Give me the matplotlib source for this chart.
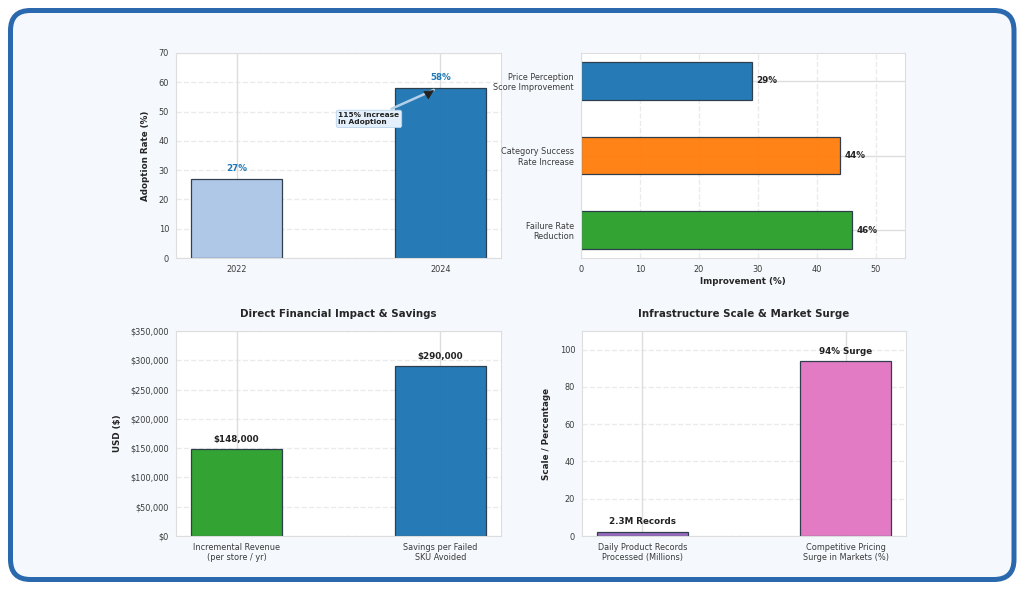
import matplotlib
matplotlib.use("Agg")
import matplotlib.pyplot as plt
import seaborn as sns
from matplotlib.patches import FancyBboxPatch
from matplotlib.transforms import IdentityTransform
from matplotlib.ticker import FuncFormatter

# ---- data ----
years = ["2022", "2024"]
adoption = [27, 58]
adoption_colors = ["#aec7e8", "#1f77b4"]

improve_cats = ["Price Perception\nScore Improvement", "Category Success\nRate Increase", "Failure Rate\nReduction"]
improve_vals = [29, 44, 46]
improve_colors = ["#1f77b4", "#ff7f0e", "#2ca02c"]

fin_cats = ["Incremental Revenue\n(per store / yr)", "Savings per Failed\nSKU Avoided"]
fin_vals = [148000, 290000]
fin_colors = ["#2ca02c", "#1f77b4"]
fin_labels = ["$148,000", "$290,000"]

infra_cats = ["Daily Product Records\nProcessed (Millions)", "Competitive Pricing\nSurge in Markets (%)"]
infra_vals = [2.3, 94]
infra_colors = ["#9467bd", "#e377c2"]
infra_labels = ["2.3M Records", "94% Surge"]

sns.set_theme(style="whitegrid")
plt.rcParams['font.family'] = ['DejaVu Sans']
plt.rcParams['axes.edgecolor'] = '#dddddd'
plt.rcParams['grid.color'] = '#dddddd'
plt.rcParams['xtick.color'] = '#3a3a3a'
plt.rcParams['ytick.color'] = '#3a3a3a'

fig = plt.figure(figsize=(10.26, 5.89), dpi=100, facecolor="white")

# frame
frame = FancyBboxPatch((10.5, 9.5), 1003.5, 569, boxstyle="round,pad=0,rounding_size=20",
                       transform=IdentityTransform(), facecolor="#f5f8fc",
                       edgecolor="#2a69ad", linewidth=3.6, zorder=-10)
fig.patches.append(frame)

W, H = 1026, 589
def rect(l, t, r, b):
    return [l / W, 1 - b / H, (r - l) / W, (b - t) / H]

ax1 = fig.add_axes(rect(176, 53, 501, 258))
ax2 = fig.add_axes(rect(581, 53, 905, 258))
ax3 = fig.add_axes(rect(176, 331, 501, 536))
ax4 = fig.add_axes(rect(582, 331, 906, 536))

tick_fs = 5.9
lab_fs = 6.3
val_fs = 6.3
title_fs = 7.4
for ax in (ax1, ax2, ax3, ax4):
    ax.set_facecolor("white")
    ax.tick_params(labelsize=tick_fs, length=0, pad=5)
    for s in ax.spines.values():
        s.set_color("#dddddd")
        s.set_linewidth(0.8)
    ax.set_axisbelow(True)

# ---- ax1 ----
x1 = range(len(years))
ax1.bar(x1, adoption, width=0.45, color=adoption_colors, edgecolor="#2b3a4a", linewidth=0.9, alpha=0.97)
ax1.set_xticks(list(x1))
ax1.set_xticklabels(years)
ax1.set_ylim(0, 70)
ax1.set_ylabel("Adoption Rate (%)", fontsize=lab_fs, fontweight="bold", labelpad=6)
ax1.grid(axis="y", linestyle="--", alpha=0.6)
for i, v in enumerate(adoption):
    ax1.text(i, v + 2, f"{v}%", ha="center", va="bottom", fontsize=val_fs, fontweight="bold", color="#1f77b4")
ax1.annotate("115% Increase\nin Adoption", xy=(0.98, 57.8), xytext=(0.5, 47.5),
             ha="left", va="center", fontsize=5.3, fontweight="bold", color="#222222",
             bbox=dict(boxstyle="round,pad=0.3", facecolor="#e3effa", edgecolor="#b9d4ee", linewidth=0.6),
             arrowprops=dict(arrowstyle="-", color="#b4cfe8", lw=1.8))
ax1.annotate("", xy=(0.98, 57.8), xytext=(0.93, 55.6),
             arrowprops=dict(arrowstyle="-|>,head_length=0.5,head_width=0.25", color="#222222", lw=0.6))

# ---- ax2 ----
y2 = range(len(improve_cats))
ax2.barh(list(y2), improve_vals, height=0.5, color=improve_colors, edgecolor="#2b3a4a", linewidth=0.9, alpha=0.97)
ax2.set_yticks(list(y2))
ax2.set_yticklabels(improve_cats, fontsize=tick_fs)
ax2.invert_yaxis()
ax2.set_xlim(0, 55)
ax2.set_xlabel("Improvement (%)", fontsize=lab_fs, fontweight="bold", labelpad=2)
ax2.grid(axis="x", linestyle="--", alpha=0.6)
for i, v in enumerate(improve_vals):
    ax2.text(v + 0.8, i, f"{v}%", ha="left", va="center", fontsize=val_fs, fontweight="bold", color="#222222")

# ---- ax3 ----
x3 = range(len(fin_cats))
ax3.bar(list(x3), fin_vals, width=0.45, color=fin_colors, edgecolor="#2b3a4a", linewidth=0.9, alpha=0.97)
ax3.set_xticks(list(x3))
ax3.set_xticklabels(fin_cats, fontsize=tick_fs)
ax3.set_ylim(0, 350000)
ax3.yaxis.set_major_formatter(FuncFormatter(lambda v, p: f"${v:,.0f}"))
ax3.set_ylabel("USD ($)", fontsize=lab_fs, fontweight="bold", labelpad=6)
ax3.set_title("Direct Financial Impact & Savings", fontsize=title_fs, fontweight="bold", pad=10)
ax3.grid(axis="y", linestyle="--", alpha=0.6)
for i, (v, t) in enumerate(zip(fin_vals, fin_labels)):
    ax3.text(i, v + 9000, t, ha="center", va="bottom", fontsize=val_fs, fontweight="bold", color="#222222")

# ---- ax4 ----
x4 = range(len(infra_cats))
ax4.bar(list(x4), infra_vals, width=0.45, color=infra_colors, edgecolor="#2b3a4a", linewidth=0.9, alpha=0.97)
ax4.set_xticks(list(x4))
ax4.set_xticklabels(infra_cats, fontsize=tick_fs)
ax4.set_ylim(0, 110)
ax4.set_ylabel("Scale / Percentage", fontsize=lab_fs, fontweight="bold", labelpad=6)
ax4.set_title("Infrastructure Scale & Market Surge", fontsize=title_fs, fontweight="bold", pad=10)
ax4.grid(axis="y", linestyle="--", alpha=0.6)
for i, (v, t) in enumerate(zip(infra_vals, infra_labels)):
    ax4.text(i, v + 2.8, t, ha="center", va="bottom", fontsize=val_fs, fontweight="bold", color="#222222")

fig.savefig("out.png", dpi=100, facecolor=fig.get_facecolor())
